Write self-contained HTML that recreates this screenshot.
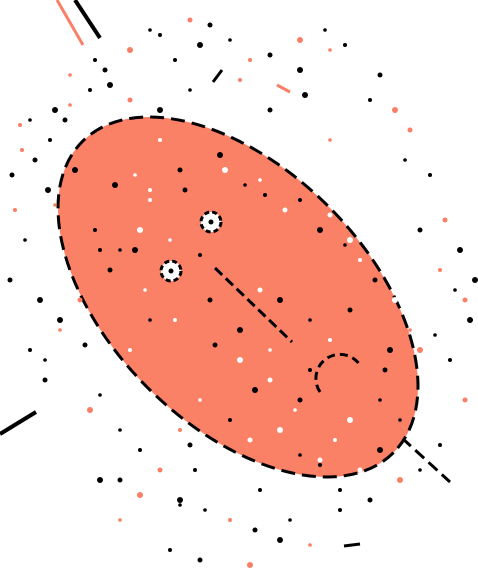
<!DOCTYPE html>
<html><head><meta charset="utf-8"><style>html,body{margin:0;padding:0;background:#fff}svg{display:block}</style></head>
<body>
<svg id="art" width="478" height="580" viewBox="0 0 478 580" xmlns="http://www.w3.org/2000/svg">
<line x1="75" y1="0" x2="100" y2="38" stroke="#000" stroke-width="4"/>
<line x1="57" y1="0" x2="83" y2="45" stroke="#fa7f66" stroke-width="3"/>
<line x1="213" y1="82" x2="222" y2="70" stroke="#000" stroke-width="3"/>
<line x1="277" y1="85" x2="290" y2="92" stroke="#fa7f66" stroke-width="3"/>
<line x1="0" y1="434" x2="36" y2="412" stroke="#000" stroke-width="4"/>
<line x1="344" y1="546" x2="360" y2="544" stroke="#000" stroke-width="3"/>
<line x1="402" y1="438" x2="450" y2="482" stroke="#000" stroke-width="3" stroke-dasharray="12,6"/>
<ellipse cx="238" cy="297" rx="220" ry="128" transform="rotate(45 238 297)" fill="#fa8066" stroke="#000" stroke-width="3" stroke-dasharray="14,7"/>
<g id="dots"></g>
<circle cx="211" cy="222" r="10" fill="#fff" stroke="#000" stroke-width="3" stroke-dasharray="5,3"/>
<circle cx="211" cy="222" r="2.5" fill="#000"/>
<circle cx="171" cy="271" r="10" fill="#fff" stroke="#000" stroke-width="3" stroke-dasharray="5,3"/>
<circle cx="171" cy="271" r="2.5" fill="#000"/>
<line x1="215" y1="268" x2="292" y2="342" stroke="#000" stroke-width="3" stroke-dasharray="10,5"/>
<path d="M320 392 A22 22 0 0 1 360 365" fill="none" stroke="#000" stroke-width="3" stroke-dasharray="8,5"/>
</svg>
<script>
const dotX=[20,35,48,70,90,105,130,150,175,190,200,230,250,270,300,330,345,380,395,405,430,445,460,25,15,10,40,60,30,45,90,120,140,160,180,205,230,255,280,310,340,370,400,420,440,465,470,455,440,420,100,120,170,200,250,290,340,360,380,400,160,180,220,260,300,330,350,120,95,80,60,45,150,210,240,270,310,300,350,380,95,130,160,190,240,270,305,330,195,120,140,180,260,320,110,100,180,190,
 115,135,150,185,225,245,265,285,320,345,360,375,395,410,100,110,140,170,200,260,280,310,330,350,390,200,230,250,280,300,320,270,240,150,130,85,75,55,50,65,420,435,450,465,475,30,22,12,55,70,160,210,300,325,370,410,135,145,175,215,255,295,335,385];
const dotY=[125,160,190,75,90,70,50,30,60,20,45,40,60,55,70,50,45,75,110,160,175,220,250,240,210,280,300,330,350,380,410,430,450,470,500,510,520,530,540,545,510,500,480,470,445,400,320,290,270,230,480,520,550,560,565,520,490,470,450,420,140,170,155,180,200,215,240,250,230,300,320,360,190,300,330,350,370,400,420,400,60,100,110,90,80,110,95,140,470,480,495,505,490,460,85,395,430,445,
 185,175,200,190,170,185,195,210,230,245,260,280,300,330,250,270,230,240,255,290,300,320,340,310,350,400,420,440,430,455,465,380,360,320,350,345,170,205,140,120,350,335,360,300,280,120,150,175,110,105,35,25,40,30,100,130,250,290,320,345,390,410,440,370];
const dotC=dotX.map((_,i)=>i%3===0?'#fa7f66':(i%5===0?'#fff':'#000'));
const dotR=dotX.map((_,i)=>[2,2.5,3,1.8][i%4]);
const g=document.getElementById('dots');
dotX.forEach((x,i)=>{
  const c=document.createElementNS('http://www.w3.org/2000/svg','circle');
  
  
  const y=dotY[i];
  const dx=x-238,dy=y-297,ca=Math.cos(Math.PI/4),sa=Math.sin(Math.PI/4);
  const u=(dx*ca+dy*sa)/220,v=(-dx*sa+dy*ca)/128;
  const inside=u*u+v*v<1;
  let col=dotC[i];
  if(inside&&col==='#fa7f66')col='#fff';
  if(!inside&&col==='#fff')col='#000';
  c.setAttribute('cx',x);c.setAttribute('cy',y);c.setAttribute('r',dotR[i]);
  c.setAttribute('fill',col);
  g.appendChild(c);
});
</script>
</body></html>
